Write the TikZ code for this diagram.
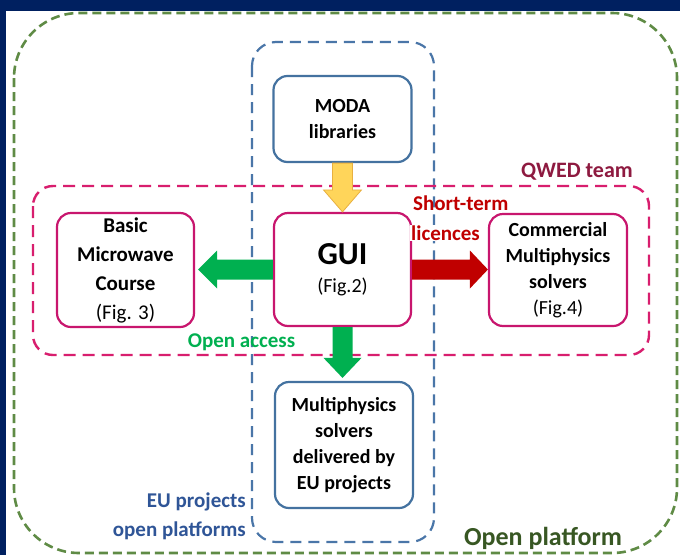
\documentclass[tikz,border=0pt]{standalone}
\usepackage{fontspec}
\setmainfont{Carlito}
\usetikzlibrary{calc}
\definecolor{navy}{HTML}{002060}
\definecolor{gdashc}{HTML}{5F8B45}
\definecolor{bdashc}{HTML}{4A76A8}
\definecolor{mdashc}{HTML}{D81E6E}
\definecolor{bboxc}{HTML}{4472A0}
\definecolor{mboxc}{HTML}{C8166E}
\definecolor{qwedc}{HTML}{8E1A40}
\definecolor{redc}{HTML}{C00000}
\definecolor{greenc}{HTML}{00B050}
\definecolor{euc}{HTML}{2F5597}
\definecolor{opc}{HTML}{385723}
\definecolor{yellowc}{HTML}{FFD55A}
\definecolor{yellowe}{HTML}{E8B040}
\begin{document}
\begin{tikzpicture}[x=1pt,y=-1pt,
  gdash/.style={draw=gdashc,line width=2.6pt,dash pattern=on 9pt off 5pt,rounded corners=65pt},
  bdash/.style={draw=bdashc,line width=2.2pt,dash pattern=on 11pt off 7pt,rounded corners=24pt},
  mdash/.style={draw=mdashc,line width=2.4pt,dash pattern=on 12pt off 7pt,rounded corners=20pt},
  bluebox/.style={draw=bboxc,line width=2.2pt,fill=white,rounded corners=14pt,align=center,inner sep=0pt,
    font=\fontsize{20}{26}\selectfont\bfseries},
  magbox/.style={draw=mboxc,line width=2.2pt,fill=white,rounded corners=14pt,align=center,inner sep=0pt,
    font=\fontsize{20}{26}\selectfont\bfseries},
  arrowfill/.style={fill=#1,draw=none},
  lbl/.style={inner sep=0pt,font=\fontsize{21}{26}\selectfont\bfseries}
]
\useasboundingbox (0,0) rectangle (680,555);
\fill[navy] (0,0) rectangle (680,555);
\fill[white] (6,11) rectangle (680,555);

% containers
\draw[gdash] (14,13) rectangle (677,553);
\draw[bdash] (252,42) rectangle (434,542);
\draw[mdash] (33,186) rectangle (649,355);

% boxes
\node[bluebox,minimum width=138pt,minimum height=86pt] (moda) at (342.5,119) {MODA\\libraries};
\node[magbox,minimum width=137pt,minimum height=113pt] (gui) at (342.5,269.5)
  {{\fontsize{32}{34}\selectfont GUI}\\[2pt]{\mdseries (Fig.2)}};
\node[magbox,minimum width=137pt,minimum height=114pt,font=\fontsize{21}{29}\selectfont\bfseries] (basic) at (125.5,270)
  {Basic\\Microwave\\Course\\{\mdseries (Fig. 3)}};
\node[magbox,minimum width=138pt,minimum height=112pt] (comm) at (558,270)
  {Commercial\\Multiphysics\\solvers\\{\mdseries (Fig.4)}};
\node[bluebox,minimum width=138pt,minimum height=126pt] (multi) at (344,445)
  {Multiphysics\\solvers\\delivered by\\EU projects};

% arrows
\draw[fill=yellowc,draw=yellowe,line width=0.8pt] let \p1=(moda.south), \p2=(gui.north) in
  (\x1-10pt,\y1) -- (\x1+10pt,\y1) -- (\x1+10pt,\y2+22pt) -- (\x1+19pt,\y2+22pt) --
  (\x1,\y2) -- (\x1-19pt,\y2+22pt) -- (\x1-10pt,\y2+22pt) -- cycle;
\fill[greenc] let \p1=(gui.west), \p2=(basic.east) in
  (\x1,\y1+10pt) -- (\x1,\y1-10pt) -- (\x2+22pt,\y1-10pt) -- (\x2+22pt,\y1-19pt) --
  (\x2+3pt,\y1) -- (\x2+22pt,\y1+19pt) -- (\x2+22pt,\y1+10pt) -- cycle;
\fill[redc] let \p1=(gui.east), \p2=(comm.west) in
  (\x1,\y1+10pt) -- (\x1,\y1-10pt) -- (\x2-18pt,\y1-10pt) -- (\x2-18pt,\y1-19pt) --
  (\x2,\y1) -- (\x2-18pt,\y1+19pt) -- (\x2-18pt,\y1+10pt) -- cycle;
\fill[greenc] let \p1=(gui.south), \p2=(multi.north) in
  (\x1-10pt,\y1) -- (\x1+10pt,\y1) -- (\x1+10pt,\y2+23pt) -- (\x1+19pt,\y2+23pt) --
  (\x1,\y2+3pt) -- (\x1-19pt,\y2+23pt) -- (\x1-10pt,\y2+23pt) -- cycle;

% labels
\node[lbl,text=qwedc,font=\fontsize{22}{26}\selectfont\bfseries] (qwed) at (577,172) {QWED team};
\node[lbl,text=redc,anchor=west] (short) at (413,203) {Short-term};
\node[lbl,text=redc,anchor=west,fill=white,inner sep=1pt] (lic) at (410,233) {licences};
\node[lbl,text=greenc] (oa) at (241.5,342) {Open access};
\node[lbl,text=euc,anchor=east] (eu1) at (246,502) {EU projects};
\node[lbl,text=euc,anchor=east] (eu2) at (246,531) {open platforms};
\node[lbl,text=opc,font=\fontsize{26}{30}\selectfont\bfseries] (op) at (543,538) {Open platform};
\end{tikzpicture}
\end{document}
